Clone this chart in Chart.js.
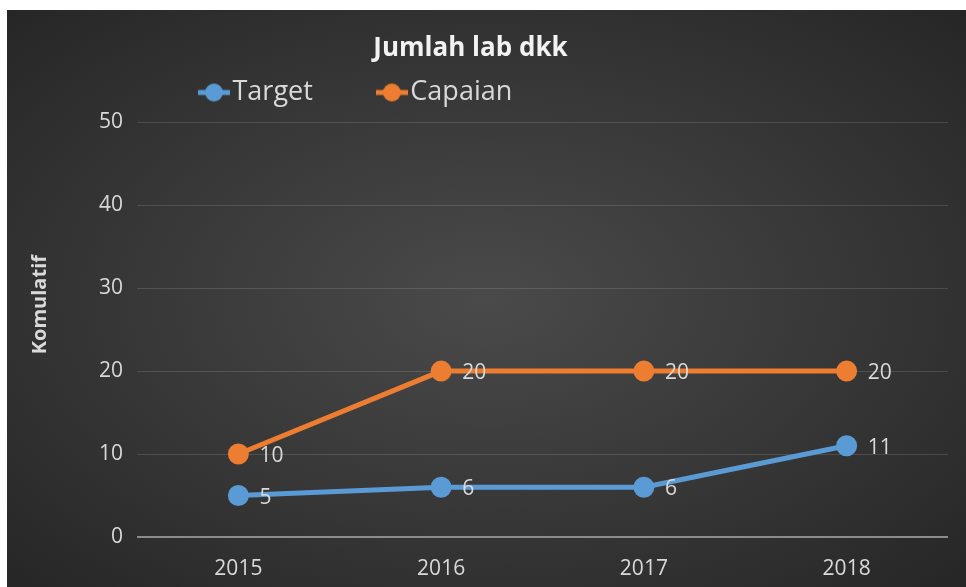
<!DOCTYPE html>
<html>
<head>
<meta charset="utf-8">
<script src="https://cdn.jsdelivr.net/npm/chart.js@4"></script>
<style>
  body { margin: 0; background: #fff; }
  #wrap {
    position: absolute; left: 7px; top: 10px; width: 959px; height: 577px;
    background: radial-gradient(ellipse at 50% 50%, #4a4a4a 0%, #3a3a3a 45%, #262626 100%);
  }
</style>
</head>
<body>
<div id="wrap"><canvas id="chart"></canvas></div>
<script>
const years = ["2015", "2016", "2017", "2018"];
const target = [5, 6, 6, 11];
const capaian = [10, 20, 20, 20];
const yTicks = [0, 10, 20, 30, 40, 50];

const blue = '#5b9bd5';
const orange = '#ed7d31';
const FONT = "'Open Sans', 'Noto Sans', sans-serif";

// legend marker: short line with a dot, like the office style
function marker(color) {
    const c = document.createElement('canvas');
    c.width = 32; c.height = 20;
    const g = c.getContext('2d');
    g.strokeStyle = color; g.lineWidth = 5;
    g.beginPath(); g.moveTo(0, 10); g.lineTo(32, 10); g.stroke();
    g.fillStyle = color;
    g.beginPath(); g.arc(16, 10, 9, 0, Math.PI * 2); g.fill();
    return c;
}
const markers = [marker(blue), marker(orange)];

const valueLabels = {
    id: 'valueLabels',
    afterDatasetsDraw(chart) {
        const ctx = chart.ctx;
        ctx.save();
        ctx.font = "21px " + FONT;
        ctx.fillStyle = '#d9d9d9';
        ctx.textAlign = 'left';
        ctx.textBaseline = 'middle';
        chart.data.datasets.forEach((ds, i) => {
            chart.getDatasetMeta(i).data.forEach((pt, j) => {
                ctx.fillText(ds.data[j], pt.x + 21, pt.y + 2);
            });
        });
        ctx.restore();
    }
};

// nudge title, legend and axis title like the original layout
const nudge = {
    id: 'nudge',
    afterLayout(chart) {
        const lg = chart.legend;
        const w = lg.right - lg.left;
        lg.left = 128; lg.right = lg.left + w;
        lg.top = -5; lg.bottom = 112;
        const t = chart.titleBlock;
        t.left -= 7; t.right -= 7;
        const y = chart.scales.y;
        if (!y._titleNudged) {
            const draw = y.drawTitle.bind(y);
            y.drawTitle = function () {
                this.top -= 25; this.bottom -= 25;
                draw();
                this.top += 25; this.bottom += 25;
            };
            y._titleNudged = true;
        }
    }
};

const chart = new Chart(document.getElementById('chart'), {
    type: 'line',
    data: {
        labels: years,
        datasets: [{
            label: 'Target',
            data: target,
            borderColor: blue,
            backgroundColor: blue,
            borderWidth: 5,
            pointRadius: 8,
            pointHoverRadius: 8,
            fill: false,
            tension: 0
        }, {
            label: 'Capaian',
            data: capaian,
            borderColor: orange,
            backgroundColor: orange,
            borderWidth: 5,
            pointRadius: 8,
            pointHoverRadius: 8,
            fill: false,
            tension: 0
        }]
    },
    options: {
        maintainAspectRatio: false,
        animation: false,
        layout: { padding: { top: 0, right: 18, left: 0, bottom: 0 } },
        plugins: {
            title: {
                display: true,
                text: 'Jumlah lab dkk',
                color: '#f2f2f2',
                font: { family: FONT, size: 26, weight: 'bold' },
                padding: { top: 23, bottom: 9 }
            },
            legend: {
                align: 'start',
                maxHeight: 49,
                labels: {
                    color: '#d9d9d9',
                    font: { family: FONT, size: 27 },
                    padding: 74,
                    usePointStyle: true,
                    pointStyleWidth: 10,
                    boxHeight: 20,
                    generateLabels: (c) => Chart.defaults.plugins.legend.labels.generateLabels(c)
                        .map((l, i) => ({ ...l, pointStyle: markers[i] }))
                }
            },
            tooltip: { enabled: false }
        },
        scales: {
            x: {
                offset: true,
                grid: { display: false },
                border: { display: false },
                ticks: { color: '#d9d9d9', font: { family: FONT, size: 21 }, padding: 11 },
                afterFit: (s) => { s.height = 50; }
            },
            y: {
                min: 0,
                max: 50,
                afterBuildTicks: (s) => { s.ticks = yTicks.map(v => ({ value: v })); },
                grid: {
                    drawTicks: false,
                    color: (c) => c.tick && c.tick.value === 0 ? '#8c8c8c' : 'rgba(255,255,255,0.13)',
                    lineWidth: (c) => c.tick && c.tick.value === 0 ? 2 : 1
                },
                border: { display: false },
                ticks: { color: '#d9d9d9', font: { family: FONT, size: 21 }, padding: 14 },
                title: {
                    display: true,
                    text: 'Komulatif',
                    color: '#d9d9d9',
                    font: { family: FONT, size: 20, weight: 'bold' },
                    padding: { top: 21, bottom: 0 }
                },
                afterFit: (s) => { s.width = 130; }
            }
        }
    },
    plugins: [valueLabels, nudge]
});
</script>
</body>
</html>
